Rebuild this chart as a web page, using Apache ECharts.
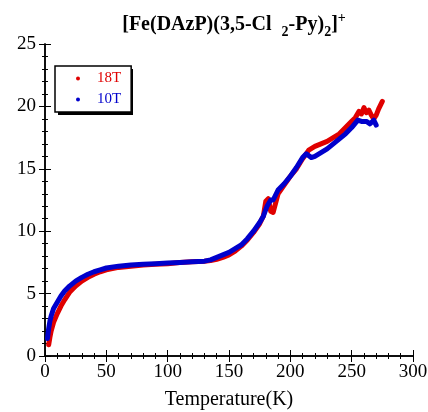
<!DOCTYPE html>
<html><head><meta charset="utf-8">
<script src="https://cdn.jsdelivr.net/npm/echarts@6/dist/echarts.min.js"></script>
<style>html,body{margin:0;padding:0;background:#fff}#c{width:428px;height:412px}</style>
</head><body><div id="c"></div>
<script>
const xTicks = [0, 50, 100, 150, 200, 250, 300];
const yTicks = [0, 5, 10, 15, 20, 25];
const seriesNames = ['18T', '10T'];

const t18 = [3,4,5,7,10,13,16,20,25,30,35,40,45,50,60,70,80,90,100,110,120,130,135,140,145,150,155,160,165,170,175,178,180,182,184,186,190,195,200,205,210,215,220,225,230,235,240,245,250,253,256,258,260,262,264,266,268,270,272,274,275];
const v18 = [0.9,1.5,2.0,2.7,3.4,4.0,4.5,5.1,5.6,6.0,6.3,6.55,6.75,6.9,7.1,7.2,7.3,7.35,7.4,7.5,7.55,7.6,7.65,7.75,7.9,8.1,8.4,8.8,9.3,9.9,10.6,11.2,12.4,12.6,11.6,11.5,13.0,13.7,14.4,15.0,15.8,16.5,16.8,17.0,17.2,17.5,17.8,18.3,18.8,19.1,19.6,19.4,19.9,19.5,19.7,19.3,19.0,19.3,19.8,20.2,20.4];

const t10 = [2,3,4,5,7,10,13,16,20,25,30,35,40,45,50,60,70,80,90,100,110,120,130,135,140,145,150,155,160,165,170,175,178,181,184,186,190,195,200,205,210,213,217,220,225,230,235,240,245,250,255,258,262,265,268,270];
const v10 = [1.4,2.2,2.8,3.2,3.8,4.3,4.8,5.2,5.6,6.0,6.3,6.55,6.75,6.9,7.05,7.2,7.3,7.35,7.4,7.45,7.5,7.55,7.6,7.7,7.9,8.1,8.3,8.6,8.9,9.4,10.0,10.7,11.2,12.0,12.5,12.5,13.3,13.8,14.4,15.1,15.9,16.2,15.9,16.0,16.3,16.6,17.0,17.4,17.8,18.3,18.9,18.8,18.8,18.6,18.9,18.5];

const FONT = '"Liberation Serif", "Times New Roman", serif';
const pairs = (t, v) => t.map((x, i) => [x, v[i]]);

const baseAxis = {
  axisLine: {show: true, lineStyle: {color: '#000', width: 1.5}},
  axisTick: {show: true, inside: true, length: 6, lineStyle: {color: '#000', width: 1}},
  minorTick: {show: true, splitNumber: 5, length: 3, lineStyle: {color: '#000', width: 1}},
  splitLine: {show: false},
  minorSplitLine: {show: false}
};

const chart = echarts.init(document.getElementById('c'), null, {renderer: 'canvas'});
chart.setOption({
  backgroundColor: '#fff',
  animation: false,
  title: {
    text: '[Fe(DAzP)(3,5-Cl  {sub|2}-Py){sub|2}]{sup|+}',
    left: 229, top: 6, textAlign: 'center',
    textStyle: {
      fontFamily: FONT, fontWeight: 'bold', fontSize: 20, color: '#000',
      rich: {
        sub: {fontFamily: FONT, fontWeight: 'bold', fontSize: 14, verticalAlign: 'bottom', padding: [12, 0, 0, 0]},
        sup: {fontFamily: FONT, fontWeight: 'bold', fontSize: 14, verticalAlign: 'top', padding: [0, 0, 14, 0]}
      }
    }
  },
  graphic: [
    {type: 'rect', left: 58, top: 69, z: 1, shape: {width: 75, height: 46}, style: {fill: '#000'}}
  ],
  legend: {
    orient: 'vertical', left: 55, top: 66, z: 5,
    padding: [5, 10, 5, 21],
    itemGap: 6, itemWidth: 4, itemHeight: 4, icon: 'circle',
    backgroundColor: '#fff', borderColor: '#000', borderWidth: 1.5, borderRadius: 0,
    data: [
      {name: seriesNames[0], textStyle: {color: '#e00000'}},
      {name: seriesNames[1], textStyle: {color: '#0000cc'}}
    ],
    textStyle: {fontFamily: FONT, fontSize: 15, padding: [0, 0, 0, 12]}
  },
  grid: {left: 45, right: 15, top: 44, bottom: 56, containLabel: false, outerBoundsMode: 'none'},
  xAxis: [
    Object.assign({}, baseAxis, {
      type: 'value', min: xTicks[0], max: xTicks[xTicks.length - 1], interval: 50,
      name: 'Temperature(K)', nameLocation: 'middle', nameGap: 34,
      nameTextStyle: {fontFamily: FONT, fontSize: 20, color: '#000'},
      axisLabel: {fontFamily: FONT, fontSize: 19, color: '#000', margin: 7}
    }),
    Object.assign({}, baseAxis, {
      type: 'value', position: 'top', min: xTicks[0], max: xTicks[xTicks.length - 1], interval: 50,
      axisLabel: {show: false}
    })
  ],
  yAxis: [
    Object.assign({}, baseAxis, {
      type: 'value', min: yTicks[0], max: yTicks[yTicks.length - 1], interval: 5,
      name: 'MT/H', nameLocation: 'middle', nameGap: 22,
      nameTextStyle: {fontFamily: FONT, fontSize: 18, color: '#000', padding: [0, 0, 22, 0]},
      axisLabel: {fontFamily: FONT, fontSize: 19, color: '#000', margin: 9}
    }),
    Object.assign({}, baseAxis, {
      type: 'value', position: 'right', min: yTicks[0], max: yTicks[yTicks.length - 1], interval: 5,
      axisLabel: {show: false}
    })
  ],
  series: [
    {
      name: seriesNames[0], type: 'line', xAxisIndex: 0, yAxisIndex: 0,
      data: pairs(t18, v18), showSymbol: false, symbol: 'circle', symbolSize: 4,
      itemStyle: {color: '#e00000'},
      lineStyle: {color: '#e00000', width: 5, join: 'round', cap: 'round'}
    },
    {
      name: seriesNames[1], type: 'line', xAxisIndex: 0, yAxisIndex: 0,
      data: pairs(t10, v10), showSymbol: false, symbol: 'circle', symbolSize: 4,
      itemStyle: {color: '#0000cc'},
      lineStyle: {color: '#0000cc', width: 5, join: 'round', cap: 'round'}
    }
  ]
});
</script></body></html>
